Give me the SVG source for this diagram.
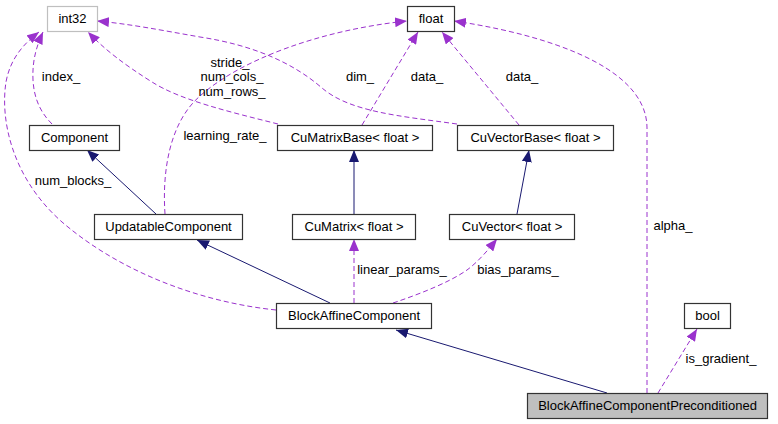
<svg xmlns="http://www.w3.org/2000/svg" width="778" height="424" viewBox="0 0 778 424">
<style>
.node rect{fill:#fff;stroke:#333;stroke-width:1.2}
.node text,.lbl{font-family:"Liberation Sans",Arial,sans-serif;font-size:13px;fill:#000}
.node text{text-anchor:middle}
.lbl{text-anchor:middle}
.inh{fill:none;stroke:#191970;stroke-width:1}
.use{fill:none;stroke:#9a32cd;stroke-width:1;stroke-dasharray:5,3}
</style>
<defs>
<marker id="an" viewBox="0 0 12 10" refX="12" refY="5" markerWidth="12" markerHeight="10" markerUnits="userSpaceOnUse" orient="auto"><path d="M0,0 L12,5 L0,10 z" fill="#191970"/></marker>
<marker id="ap" viewBox="0 0 12 10" refX="12" refY="5" markerWidth="12" markerHeight="10" markerUnits="userSpaceOnUse" orient="auto"><path d="M0,0 L12,5 L0,10 z" fill="#9a32cd"/></marker>
</defs>
<rect width="778" height="424" fill="#fff"/>
<g id="edges">
<path class="inh" d="M156,214 L87,150" marker-end="url(#an)"/>
<path class="inh" d="M330,303 L197,240" marker-end="url(#an)"/>
<path class="inh" d="M354,214 L354,150" marker-end="url(#an)"/>
<path class="inh" d="M517,214 L529,150" marker-end="url(#an)"/>
<path class="inh" d="M607,393 L396,330" marker-end="url(#an)"/>
<path class="use" d="M52,124 C40,112 34,98 33,80 C32,60 37,45 43,32" marker-end="url(#ap)"/>
<path class="use" d="M276,310 C200,302 120,272 62,222 C12,178 0,120 6,82 C10,60 22,45 39,32" marker-end="url(#ap)"/>
<path class="use" d="M278,124 C230,112 180,100 152,82 C125,65 105,50 88,32" marker-end="url(#ap)"/>
<path class="use" d="M457,124 C400,116 350,112 322,88 C292,62 252,45 200,37 C160,30 130,24 97,21" marker-end="url(#ap)"/>
<path class="use" d="M165,214 C162,170 170,122 200,96 C240,60 320,30 407,21" marker-end="url(#ap)"/>
<path class="use" d="M362,125 L418,32" marker-end="url(#ap)"/>
<path class="use" d="M519,125 L442,32" marker-end="url(#ap)"/>
<path class="use" d="M647,393 L647,128 C647,62 530,32 454,21" marker-end="url(#ap)"/>
<path class="use" d="M354,303 L354,239" marker-end="url(#ap)"/>
<path class="use" d="M393,303 C420,294 450,282 467,270 C478,262 488,250 497,239" marker-end="url(#ap)"/>
<path class="use" d="M658,393 L697,329" marker-end="url(#ap)"/>
<text class="lbl" x="61" y="81">index_</text>
<text class="lbl" x="73" y="185">num_blocks_</text>
<text class="lbl" x="230" y="67">stride_</text>
<text class="lbl" x="232" y="81">num_cols_</text>
<text class="lbl" x="232" y="96">num_rows_</text>
<text class="lbl" x="360" y="81">dim_</text>
<text class="lbl" x="225" y="140">learning_rate_</text>
<text class="lbl" x="427" y="81">data_</text>
<text class="lbl" x="522" y="81">data_</text>
<text class="lbl" x="673" y="230">alpha_</text>
<text class="lbl" x="402" y="274">linear_params_</text>
<text class="lbl" x="518" y="274">bias_params_</text>
<text class="lbl" x="721" y="363">is_gradient_</text>
</g>
<g id="int32" class="node"><rect x="47.5" y="6.5" width="50" height="25" style="stroke:#bfbfbf"/><text x="72.5" y="23">int32</text></g>
<g id="float" class="node"><rect x="407.5" y="6.5" width="47" height="25"/><text x="431" y="23">float</text></g>
<g id="Component" class="node"><rect x="29.5" y="125.5" width="90" height="25"/><text x="74.5" y="142">Component</text></g>
<g id="CuMatrixBase" class="node"><rect x="277.5" y="125.5" width="155" height="25"/><text x="355" y="142">CuMatrixBase&lt; float &gt;</text></g>
<g id="CuVectorBase" class="node"><rect x="457.5" y="125.5" width="156" height="25"/><text x="535.5" y="142">CuVectorBase&lt; float &gt;</text></g>
<g id="UpdatableComponent" class="node"><rect x="94.5" y="214.5" width="148" height="25"/><text x="168.5" y="231">UpdatableComponent</text></g>
<g id="CuMatrix" class="node"><rect x="292.5" y="214.5" width="123" height="25"/><text x="354" y="231">CuMatrix&lt; float &gt;</text></g>
<g id="CuVector" class="node"><rect x="449.5" y="214.5" width="125" height="25"/><text x="512" y="231">CuVector&lt; float &gt;</text></g>
<g id="BlockAffineComponent" class="node"><rect x="276.5" y="303.5" width="155" height="25"/><text x="354" y="320">BlockAffineComponent</text></g>
<g id="bool" class="node"><rect x="684.5" y="303.5" width="46" height="25"/><text x="707.5" y="320">bool</text></g>
<g id="BlockAffineComponentPreconditioned" class="node"><rect x="527.5" y="393.5" width="240" height="25" style="fill:#bfbfbf"/><text x="647.5" y="410">BlockAffineComponentPreconditioned</text></g>
</svg>
